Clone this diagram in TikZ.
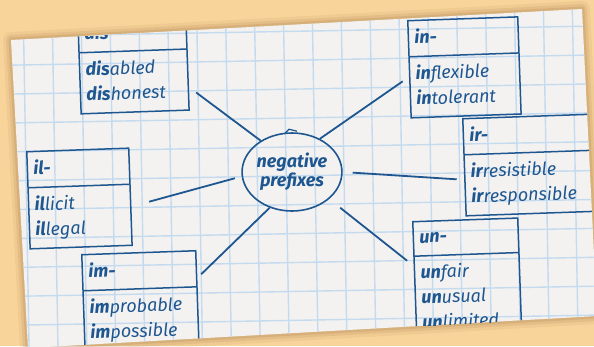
\documentclass[tikz,border=0pt]{standalone}
\usepackage{fontspec}
\setmainfont{Fira Sans}
\usetikzlibrary{shapes.multipart,shapes.geometric}

\definecolor{desk}{HTML}{F8D49A}
\definecolor{deskshade}{HTML}{A47A48}
\definecolor{paper}{HTML}{F3F2F1}
\definecolor{gridblue}{HTML}{C4DAEE}
\definecolor{ink}{HTML}{1E5690}

% one line of a word list: bold prefix, then the rest
\newcommand{\wordline}[2]{\rule[-4pt]{0pt}{17pt}\textbf{#1}#2}

\begin{document}
\begin{tikzpicture}[x=1pt, y=-1pt,
    prefixbox/.style={draw=ink, line width=1.5pt, rectangle split, rectangle split parts=2,
      anchor=north west, rotate=2, inner xsep=6pt, inner ysep=8pt, align=left,
      text width=#1, text=ink, font=\itshape\fontsize{18}{25}\selectfont},
    link/.style={draw=ink, line width=1.8pt},
    gridline/.style={draw=gridblue, line width=1.4pt}]

  \useasboundingbox[fill=desk] (0,0) rectangle (594,346);

  % sheet of squared paper with a soft shadow
  \def\sheet{(11,40) -- (582,9) -- (597,316) -- (28,348) -- cycle}
  \foreach \w/\o in {16/0.10, 10/0.14, 5/0.2}
    \draw[deskshade, line width=\w pt, opacity=\o, line join=round] \sheet;
  \fill[paper] \sheet;

  \begin{scope}
    \clip \sheet;
    \begin{scope}[shift={(197,33)}, rotate=1]
      \foreach \i in {-8,...,14}
        \draw[gridline] (\i*28.9,-60) -- (\i*28.9,340);
      \foreach \j in {-3,...,12}
        \draw[gridline] (-220,\j*28.9) -- (420,\j*28.9);
    \end{scope}

    % centre
    \node[draw=ink, line width=1.6pt, ellipse, minimum width=92pt, minimum height=78pt,
          inner sep=0pt, align=center, text=ink,
          font=\bfseries\itshape\fontsize{18}{19}\selectfont]
      (neg) at (292,172) {negative\\prefixes};
    \draw[ink, line width=1.2pt] ([shift={(-7,1)}]neg.north) -- ([shift={(-3,-3)}]neg.north)
      -- ([shift={(5,-1)}]neg.north);

    % prefix boxes
    \node[prefixbox=96pt] (dis) at (77,16)
      {\wordline{dis-}{}\nodepart{two}\wordline{dis}{abled}\\\wordline{dis}{honest}};
    \node[prefixbox=98pt] (in) at (407,20)
      {\wordline{in-}{}\nodepart{two}\wordline{in}{flexible}\\\wordline{in}{tolerant}};
    \node[prefixbox=116pt] (ir) at (462,118)
      {\wordline{ir-}{}\nodepart{two}\wordline{ir}{resistible}\\\wordline{ir}{responsible}};
    \node[prefixbox=90pt] (il) at (26,151)
      {\wordline{il-}{}\nodepart{two}\wordline{il}{licit}\\\wordline{il}{legal}};
    \node[prefixbox=102pt] (im) at (81,254)
      {\wordline{im-}{}\nodepart{two}\wordline{im}{probable}\\\wordline{im}{possible}};
    \node[prefixbox=93pt] (un) at (412,221)
      {\wordline{un-}{}\nodepart{two}\wordline{un}{fair}\\\wordline{un}{usual}\\\wordline{un}{limited}};

    % links to the centre
    \draw[link] ([shift={(8,31)}]dis.east) -- (neg.135);
    \draw[link] ([shift={(-6,12)}]in.west) -- (neg.50);
    \draw[link, shorten <=10pt] (neg.east) -- ([shift={(-7,12)}]ir.west);
    \draw[link, shorten >=7pt] ([shift={(18,5)}]il.east) -- (neg.185);
    \draw[link] ([shift={(3,-25)}]im.east) -- (neg.238);
    \draw[link, shorten <=14pt] (neg.-36) -- ([shift={(-7,-21)}]un.west);
  \end{scope}
\end{tikzpicture}
\end{document}
